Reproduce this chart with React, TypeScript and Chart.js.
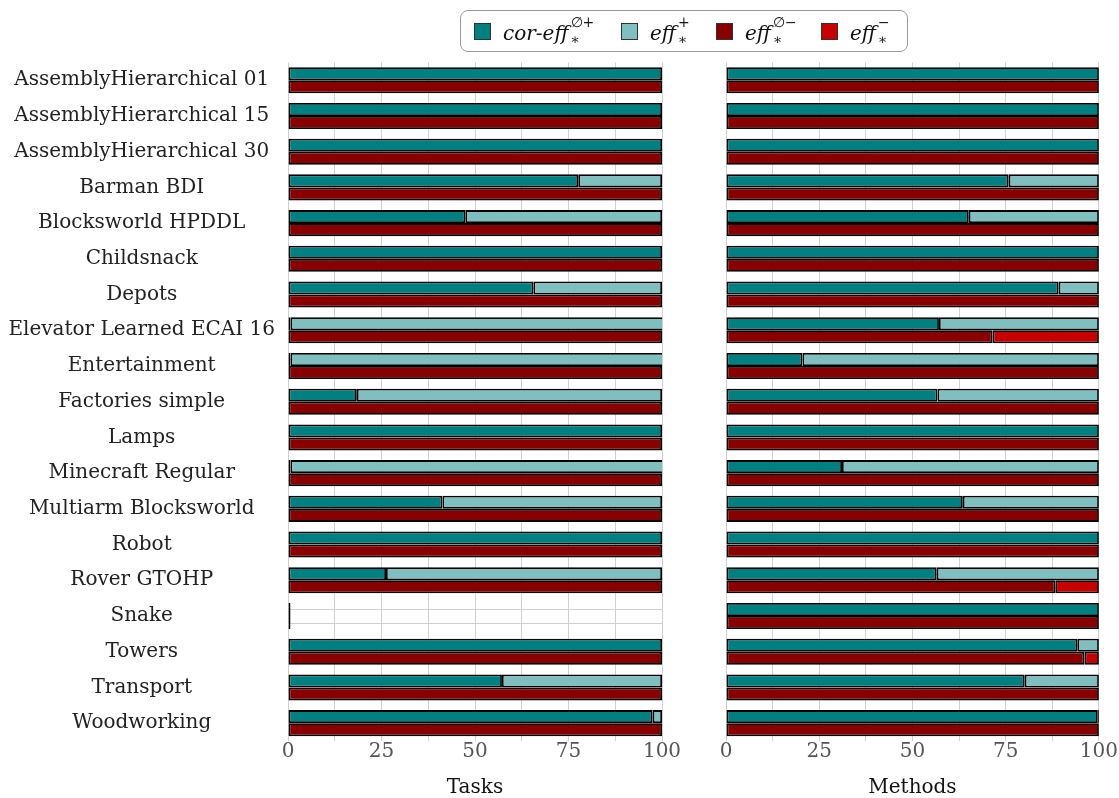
import React, { useEffect, useRef } from 'react';
import { Chart, registerables } from 'chart.js';

Chart.register(...registerables);

// ---------- data ----------
const categories = [
  'AssemblyHierarchical 01',
  'AssemblyHierarchical 15',
  'AssemblyHierarchical 30',
  'Barman BDI',
  'Blocksworld HPDDL',
  'Childsnack',
  'Depots',
  'Elevator Learned ECAI 16',
  'Entertainment',
  'Factories simple',
  'Lamps',
  'Minecraft Regular',
  'Multiarm Blocksworld',
  'Robot',
  'Rover GTOHP',
  'Snake',
  'Towers',
  'Transport',
  'Woodworking',
];

// Tasks panel
const tasksCorEffPos = [100, 100, 100, 77.6, 47.4, 100, 65.6, 0, 0, 18.4, 100, 0, 41.3, 100, 26.2, 0, 100, 57.2, 97.5];
const tasksEffPos = [0, 0, 0, 22.4, 52.6, 0, 34.4, 100, 100, 81.6, 0, 100, 58.7, 0, 73.8, 0, 0, 42.8, 2.5];
const tasksEffEmptyNeg = [100, 100, 100, 100, 100, 100, 100, 100, 100, 100, 100, 100, 100, 100, 100, 0, 100, 100, 100];
const tasksEffNeg = [0, 0, 0, 0, 0, 0, 0, 0, 0, 0, 0, 0, 0, 0, 0, 0, 0, 0, 0];

// Methods panel
const methodsCorEffPos = [100, 100, 100, 75.8, 65.1, 100, 89.2, 57.1, 20.5, 56.7, 100, 31.1, 63.5, 100, 56.5, 100, 94.2, 80.1, 99.7];
const methodsEffPos = [0, 0, 0, 24.2, 34.9, 0, 10.8, 42.9, 79.5, 43.3, 0, 68.9, 36.5, 0, 43.5, 0, 5.8, 19.9, 0.3];
const methodsEffEmptyNeg = [100, 100, 100, 100, 100, 100, 100, 71.5, 100, 100, 100, 100, 100, 100, 88.3, 100, 96.1, 100, 100];
const methodsEffNeg = [0, 0, 0, 0, 0, 0, 0, 28.5, 0, 0, 0, 0, 0, 0, 11.7, 0, 3.9, 0, 0];

const xTickLabels = [0, 25, 50, 75, 100];

// ---------- style ----------
const TEAL = '#008080';
const LTEAL = '#80bfbf';
const DRED = '#880000';
const RED = '#c80000';
const SERIF = "'DejaVu Serif', serif";

const rowLines = {
  id: 'rowLines',
  beforeDatasetsDraw(chart: any) {
    const { ctx, chartArea } = chart;
    ctx.save();
    ctx.strokeStyle = '#d0d0d0';
    ctx.lineWidth = 1;
    [0, 2].forEach((di) => {
      chart.getDatasetMeta(di).data.forEach((el: any) => {
        const y = Math.round(el.y) + 0.5;
        ctx.beginPath();
        ctx.moveTo(chartArea.left, y);
        ctx.lineTo(chartArea.right, y);
        ctx.stroke();
      });
    });
    ctx.restore();
  },
};

function buildConfig(
  a: number[], b: number[], c: number[], d: number[],
  title: string, showY: boolean, padding: any, minBar: number
): any {
  return {
    type: 'bar',
    data: {
      labels: categories,
      datasets: [
        { label: 'cor-eff+', data: a, backgroundColor: TEAL, stack: 'pos', minBarLength: minBar },
        { label: 'eff+', data: b, backgroundColor: LTEAL, stack: 'pos' },
        { label: 'eff0-', data: c, backgroundColor: DRED, stack: 'neg', minBarLength: minBar },
        { label: 'eff-', data: d, backgroundColor: RED, stack: 'neg' },
      ],
    },
    options: {
      indexAxis: 'y',
      responsive: false,
      maintainAspectRatio: false,
      animation: false,
      devicePixelRatio: 1,
      datasets: {
        bar: {
          borderColor: '#000',
          borderWidth: 1.8,
          borderSkipped: false,
          categoryPercentage: 0.73,
          barPercentage: 1,
          inflateAmount: 0,
        },
      },
      layout: { padding },
      plugins: { legend: { display: false }, tooltip: { enabled: false } },
      scales: {
        x: {
          stacked: true,
          min: 0,
          max: 100,
          ticks: {
            stepSize: 12.5,
            autoSkip: false,
            maxRotation: 0,
            padding: 1,
            color: '#555',
            font: { family: SERIF, size: 20, lineHeight: 1 },
            callback: (v: any) => (xTickLabels.includes(Number(v)) ? String(v) : ''),
          },
          grid: { color: '#d0d0d0', drawTicks: false },
          border: { display: false },
          title: {
            display: true,
            text: title,
            color: '#111',
            padding: 0,
            font: { family: SERIF, size: 20, lineHeight: 1 },
          },
          afterFit: (s: any) => { s.height = 57; },
        },
        y: {
          stacked: true,
          display: showY,
          ticks: {
            crossAlign: 'center',
            autoSkip: false,
            padding: 5,
            color: '#222',
            font: { family: SERIF, size: 20 },
          },
          grid: { display: false },
          border: { display: false },
          afterFit: (s: any) => { s.width = showY ? 288 : 0; },
        },
      },
    },
    plugins: [rowLines],
  };
}

function LegendEntry(props: { left: number; color: string; text: string; sup: string; textLeft: number }) {
  const { left, color, text, sup, textLeft } = props;
  return (
    <>
      <div
        style={{
          position: 'absolute', left, top: 23, width: 15, height: 15,
          background: color, border: '1px solid #333',
        }}
      />
      <div
        style={{
          position: 'absolute', left: textLeft, top: 23, fontFamily: SERIF, fontStyle: 'italic',
          fontSize: 20, lineHeight: '20px', color: '#111', whiteSpace: 'nowrap',
        }}
      >
        <span style={{ position: 'relative' }}>
          {text}
          <span style={{ position: 'absolute', left: '100%', top: -6, marginLeft: 2, fontSize: 14, lineHeight: '14px', fontStyle: 'normal' }}>{sup}</span>
          <span style={{ position: 'absolute', left: '100%', top: 11, marginLeft: 2, fontSize: 14, lineHeight: '14px', fontStyle: 'normal' }}>∗</span>
        </span>
      </div>
    </>
  );
}

export default function App() {
  const leftRef = useRef<HTMLCanvasElement>(null);
  const rightRef = useRef<HTMLCanvasElement>(null);

  useEffect(() => {
    const left = new Chart(
      leftRef.current!,
      buildConfig(tasksCorEffPos, tasksEffPos, tasksEffEmptyNeg, tasksEffNeg, 'Tasks', true,
        { left: 0, right: 38, top: 62.4, bottom: 0 }, 2.5)
    );
    const right = new Chart(
      rightRef.current!,
      buildConfig(methodsCorEffPos, methodsEffPos, methodsEffEmptyNeg, methodsEffNeg, 'Methods', false,
        { left: 26, right: 19, top: 62.4, bottom: 0 }, 0)
    );
    return () => {
      left.destroy();
      right.destroy();
    };
  }, []);

  return (
    <div style={{ position: 'absolute', left: 0, top: 0, width: 1119, height: 798, background: '#fff', overflow: 'hidden' }}>
      <canvas ref={leftRef} width={700} height={798} style={{ position: 'absolute', left: 0, top: 0, width: 700, height: 798 }} />
      <canvas ref={rightRef} width={419} height={798} style={{ position: 'absolute', left: 700, top: 0, width: 419, height: 798 }} />
      <div
        style={{
          position: 'absolute', left: 460, top: 10, width: 448, height: 42,
          border: '1px solid #9a9a9a', borderRadius: 8, boxSizing: 'border-box',
        }}
      />
      <LegendEntry left={474} color={TEAL} text="cor-eff" sup="∅+" textLeft={503} />
      <LegendEntry left={621} color={LTEAL} text="eff" sup="+" textLeft={650} />
      <LegendEntry left={716} color={DRED} text="eff" sup="∅−" textLeft={745} />
      <LegendEntry left={821} color={RED} text="eff" sup="−" textLeft={850} />
    </div>
  );
}
